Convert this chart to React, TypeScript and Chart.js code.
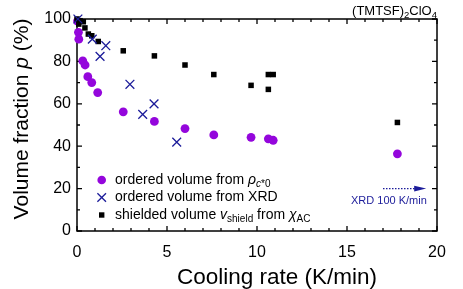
import React, { useEffect, useRef } from "react";
import { Chart, registerables } from "chart.js";

Chart.register(...registerables);

// ---- data ----
const rhoRate = [0.03, 0.08, 0.1, 0.32, 0.45, 0.6, 0.82, 1.15, 2.57, 4.3, 6.0, 7.6, 9.67, 10.63, 10.9, 17.8];
const rhoVolume = [99, 93.7, 90.5, 80.2, 78.3, 72.8, 70, 65.3, 56.2, 51.7, 48.3, 45.3, 44.2, 43.5, 42.8, 36.4];

const xrdRate = [0.05, 0.85, 1.28, 1.6, 2.94, 3.65, 4.28, 5.54];
const xrdVolume = [100, 90.5, 82.4, 87.4, 69.2, 55, 60, 41.9];

const shieldRate = [0.0, 0.1, 0.17, 0.35, 0.44, 0.63, 0.82, 1.18, 2.57, 4.3, 6.0, 7.6, 9.67, 10.63, 10.9, 10.63, 17.8];
const shieldVolume = [100, 97.6, 99.2, 98.7, 95.8, 92.9, 92.1, 89.4, 85, 82.6, 78.3, 73.8, 68.7, 73.8, 73.8, 66.8, 51.2];

const xTickValues = [0, 5, 10, 15, 20];
const yTickValues = [0, 20, 40, 60, 80, 100];

const arrowFrom = [17.0, 20];
const arrowTo = [19.4, 20];
const arrowLabel = "XRD 100 K/min";
const arrowLabelAt = [17.33, 14.3];

const PURPLE = "#9406dc";
const NAVY = "#1c1c9a";
const FONT = '"Liberation Sans", Arial, Helvetica, sans-serif';

type Part = { t: string; size: number; italic?: boolean; dy?: number };

function partFont(p: Part) {
  return `${p.italic ? "italic " : ""}${p.size}px ${FONT}`;
}

function drawRich(ctx: CanvasRenderingContext2D, x: number, y: number, parts: Part[], align: "left" | "center" | "right") {
  let total = 0;
  for (const p of parts) {
    ctx.font = partFont(p);
    total += ctx.measureText(p.t).width;
  }
  let cx = x;
  if (align === "center") cx = x - total / 2;
  if (align === "right") cx = x - total;
  ctx.textAlign = "left";
  for (const p of parts) {
    ctx.font = partFont(p);
    ctx.fillText(p.t, cx, y + (p.dy || 0));
    cx += ctx.measureText(p.t).width;
  }
}

const framePlugin = {
  id: "frame",
  beforeDatasetsDraw(chart: any) {
    const { ctx, chartArea } = chart;
    const xs = chart.scales.x;
    const ys = chart.scales.y;
    const { left, right, top, bottom } = chartArea;
    ctx.save();
    ctx.strokeStyle = "#000";
    ctx.lineWidth = 1.3;
    ctx.beginPath();
    for (let v = 0; v <= 20; v++) {
      const px = xs.getPixelForValue(v);
      const len = v % 5 === 0 ? 5 : 3;
      ctx.moveTo(px, bottom);
      ctx.lineTo(px, bottom - len);
      ctx.moveTo(px, top);
      ctx.lineTo(px, top + len);
    }
    for (let v = 0; v <= 100; v += 10) {
      const py = ys.getPixelForValue(v);
      const len = v % 20 === 0 ? 5 : 3;
      ctx.moveTo(left, py);
      ctx.lineTo(left + len, py);
      ctx.moveTo(right, py);
      ctx.lineTo(right - len, py);
    }
    ctx.stroke();
    ctx.lineWidth = 1.5;
    ctx.strokeRect(left, top, right - left, bottom - top);
    ctx.restore();
  },
  afterDraw(chart: any) {
    const { ctx, chartArea } = chart;
    const xs = chart.scales.x;
    const ys = chart.scales.y;
    ctx.save();
    ctx.fillStyle = "#000";
    ctx.textBaseline = "alphabetic";

    // compound title
    drawRich(ctx, chartArea.right, 15, [
      { t: "(TMTSF)", size: 13 },
      { t: "2", size: 9.5, dy: 3 },
      { t: "ClO", size: 13 },
      { t: "4", size: 9.5, dy: 3 },
    ], "right");

    // x title
    drawRich(ctx, 277, 284, [{ t: "Cooling rate (K/min)", size: 22.5 }], "center");

    // y title
    ctx.save();
    ctx.translate(28, 119);
    ctx.rotate(-Math.PI / 2);
    drawRich(ctx, 0, 0, [
      { t: "Volume fraction ", size: 21 },
      { t: "p", size: 21, italic: true },
      { t: " (%)", size: 21 },
    ], "center");
    ctx.restore();

    // arrow annotation
    const ax0 = xs.getPixelForValue(arrowFrom[0]);
    const ax1 = xs.getPixelForValue(arrowTo[0]);
    const ay = ys.getPixelForValue(arrowFrom[1]);
    ctx.strokeStyle = NAVY;
    ctx.fillStyle = NAVY;
    ctx.lineWidth = 1.2;
    ctx.setLineDash([1.5, 1.5]);
    ctx.beginPath();
    ctx.moveTo(ax0, ay);
    ctx.lineTo(ax1 - 10, ay);
    ctx.stroke();
    ctx.setLineDash([]);
    ctx.beginPath();
    ctx.moveTo(ax1, ay);
    ctx.lineTo(ax1 - 12, ay - 2.8);
    ctx.lineTo(ax1 - 12, ay + 2.8);
    ctx.closePath();
    ctx.fill();
    ctx.textBaseline = "middle";
    drawRich(ctx, xs.getPixelForValue(arrowLabelAt[0]), ys.getPixelForValue(arrowLabelAt[1]), [{ t: arrowLabel, size: 11 }], "center");

    // legend
    const mx = 101.7;
    const tx = 115;
    const rows = [180, 197.5, 215];
    ctx.textBaseline = "middle";
    ctx.fillStyle = PURPLE;
    ctx.beginPath();
    ctx.arc(mx, rows[0], 4.3, 0, Math.PI * 2);
    ctx.fill();
    ctx.fillStyle = "#000";
    drawRich(ctx, tx, rows[0], [
      { t: "ordered volume from ", size: 14 },
      { t: "ρ", size: 14, italic: true },
      { t: "c", size: 10, italic: true, dy: 4 },
      { t: "*0", size: 10, dy: 4 },
    ], "left");
    ctx.strokeStyle = NAVY;
    ctx.lineWidth = 1.3;
    ctx.beginPath();
    ctx.moveTo(mx - 4.3, rows[1] - 4.3);
    ctx.lineTo(mx + 4.3, rows[1] + 4.3);
    ctx.moveTo(mx + 4.3, rows[1] - 4.3);
    ctx.lineTo(mx - 4.3, rows[1] + 4.3);
    ctx.stroke();
    drawRich(ctx, tx, rows[1], [{ t: "ordered volume from XRD", size: 14 }], "left");
    ctx.fillRect(mx - 2.7, rows[2] - 2.7, 5.4, 5.4);
    drawRich(ctx, tx, rows[2], [
      { t: "shielded volume ", size: 14 },
      { t: "v", size: 14, italic: true },
      { t: "shield", size: 10, dy: 4 },
      { t: " from ", size: 14 },
      { t: "χ", size: 14, italic: true },
      { t: "AC", size: 10, dy: 4 },
    ], "left");
    ctx.restore();
  },
};

export default function App() {
  const ref = useRef<HTMLCanvasElement | null>(null);
  useEffect(() => {
    const canvas = ref.current;
    if (!canvas) return;
    const chart = new Chart(canvas, {
      type: "scatter",
      data: {
        datasets: [
          {
            label: "ordered volume from rho",
            data: rhoRate.map((x, i) => ({ x, y: rhoVolume[i] })),
            pointStyle: "circle",
            pointRadius: 4.4,
            backgroundColor: PURPLE,
            borderColor: PURPLE,
            borderWidth: 0,
            clip: false,
            order: 3,
          },
          {
            label: "ordered volume from XRD",
            data: xrdRate.map((x, i) => ({ x, y: xrdVolume[i] })),
            pointStyle: "crossRot",
            pointRadius: 6.2,
            borderColor: NAVY,
            backgroundColor: NAVY,
            borderWidth: 1.3,
            clip: false,
            order: 1,
          },
          {
            label: "shielded volume",
            data: shieldRate.map((x, i) => ({ x, y: shieldVolume[i] })),
            pointStyle: "rect",
            pointRadius: 3.9,
            backgroundColor: "#000",
            borderColor: "#000",
            borderWidth: 0,
            clip: false,
            order: 2,
          },
        ] as any,
      },
      options: {
        responsive: false,
        animation: false,
        devicePixelRatio: 1,
        events: [],
        layout: { padding: { left: 0, right: 26, top: 19, bottom: 0 } },
        plugins: { legend: { display: false }, tooltip: { enabled: false } },
        scales: {
          x: {
            type: "linear",
            min: 0,
            max: 20,
            afterBuildTicks: (s: any) => {
              s.ticks = xTickValues.map((v) => ({ value: v }));
            },
            ticks: { color: "#000", font: { family: FONT, size: 16 }, padding: 12, maxRotation: 0, autoSkip: false },
            grid: { display: false, drawTicks: false },
            border: { display: false },
            afterFit: (s: any) => {
              s.height = 58;
            },
          },
          y: {
            type: "linear",
            min: 0,
            max: 100,
            afterBuildTicks: (s: any) => {
              s.ticks = yTickValues.map((v) => ({ value: v }));
            },
            ticks: { color: "#000", font: { family: FONT, size: 16 }, padding: 6, autoSkip: false },
            grid: { display: false, drawTicks: false },
            border: { display: false },
            afterFit: (s: any) => {
              s.width = 77;
            },
          },
        },
      } as any,
      plugins: [framePlugin],
    });
    return () => chart.destroy();
  }, []);
  return (
    <div style={{ position: "absolute", left: 0, top: 0, width: 463, height: 289, background: "#fff" }}>
      <canvas ref={ref} width={463} height={289} style={{ display: "block", width: 463, height: 289 }} />
    </div>
  );
}
